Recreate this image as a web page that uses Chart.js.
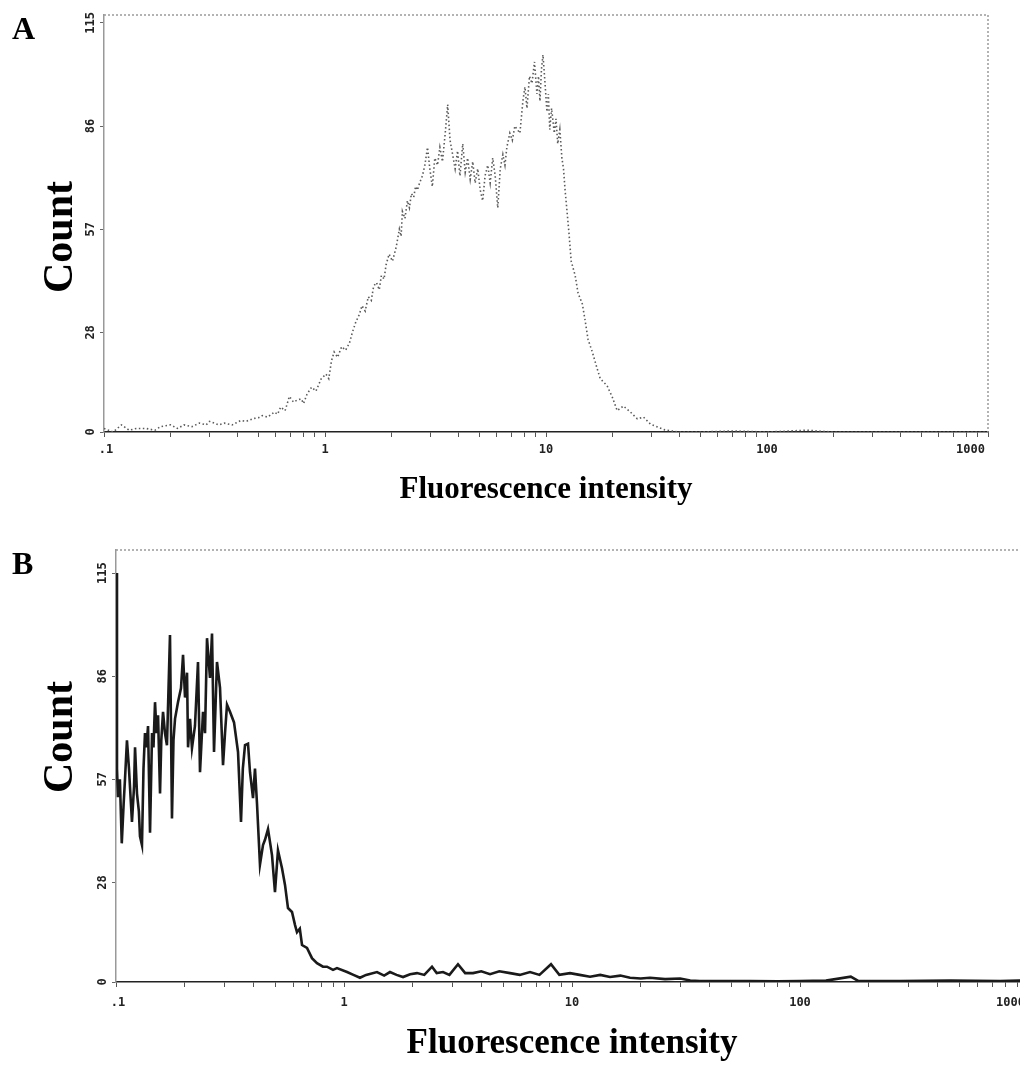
<!DOCTYPE html>
<html>
<head>
<meta charset="utf-8">
<script src="https://cdn.jsdelivr.net/npm/chart.js@4/dist/chart.umd.min.js"></script>
<style>
  html, body { margin: 0; padding: 0; background: #fff; }
  body { width: 1020px; height: 1067px; position: relative; overflow: hidden; font-family: "Liberation Serif", serif; }
  canvas { position: absolute; left: 0; }
  .letter { position: absolute; left: 12px; font-weight: bold; font-size: 32px; }
  .ytitle { position: absolute; width: 200px; height: 50px; line-height: 50px; text-align: center;
            font-weight: bold; font-size: 42px; transform: rotate(-90deg); }
</style>
</head>
<body>
<canvas id="chartA" style="top:0" width="1020" height="540"></canvas>
<canvas id="chartB" style="top:540px" width="1045" height="527"></canvas>
<div class="letter" style="top:10px">A</div>
<div class="letter" style="top:545px">B</div>
<div class="ytitle" style="left:-42px; top:212px">Count</div>
<div class="ytitle" style="left:-42px; top:712px">Count</div>

<script>
// axis labels
var xTickValues = [0.1, 1, 10, 100, 1000];
var xTickLabels = ['.1', '1', '10', '100', '1000'];
var yTickValues = [0, 28, 57, 86, 115];
var yTickLabels = ['0', '28', '57', '86', '115'];
var xTitle = 'Fluorescence intensity';

// panel A histogram (dotted)
var aIntensity = [
  0.1, 0.11, 0.12, 0.13, 0.14, 0.155, 0.17, 0.18, 0.2, 0.215,
  0.23, 0.25, 0.27, 0.29, 0.3, 0.33, 0.35, 0.38, 0.415, 0.44,
  0.475, 0.5, 0.52, 0.55, 0.59, 0.61, 0.63, 0.66, 0.69, 0.72,
  0.75, 0.78, 0.8, 0.83, 0.87, 0.91, 0.96, 1.01, 1.04, 1.07,
  1.1, 1.14, 1.19, 1.24, 1.29, 1.33, 1.38, 1.43, 1.47, 1.52,
  1.57, 1.62, 1.66, 1.71, 1.76, 1.8, 1.85, 1.89, 1.95, 2.02,
  2.1, 2.17, 2.21, 2.24, 2.3, 2.36, 2.41, 2.46, 2.52, 2.57,
  2.62, 2.68, 2.76, 2.83, 2.91, 2.98, 3.06, 3.14, 3.23, 3.31,
  3.4, 3.5, 3.59, 3.68, 3.78, 3.88, 3.98, 4.08, 4.2, 4.31,
  4.42, 4.54, 4.66, 4.78, 4.91, 5.04, 5.17, 5.3, 5.45, 5.59,
  5.74, 5.89, 6.05, 6.21, 6.38, 6.52, 6.65, 6.86, 7.04, 7.23,
  7.42, 7.62, 7.86, 8.03, 8.2, 8.42, 8.64, 8.87, 9.1, 9.25,
  9.39, 9.54, 9.69, 9.9, 10.1, 10.25, 10.4, 10.6, 10.9, 11.1,
  11.3, 11.55, 11.8, 12, 12.2, 12.45, 12.7, 13, 13.55, 13.97,
  14.6, 15, 15.5, 16.2, 17.06, 17.6, 18.9, 19.95, 21, 22.4,
  24.1, 25.9, 27.6, 29.7, 32, 34.5, 37, 40, 50, 70,
  100, 150, 200, 300, 500, 700, 1000
];
var aCount = [
  1, 0, 2, 0.5, 1, 1, 0.5, 1.5, 2, 1,
  2, 1.5, 2.5, 2, 3, 2, 2.5, 2, 3.2, 3,
  3.8, 4, 4.6, 4.2, 5.6, 5, 7, 6, 10, 8.4,
  9, 9.3, 8, 10.7, 12.6, 11.5, 14.9, 16.3, 15, 20,
  22.5, 21, 24, 23, 25, 28, 31, 33, 35.5, 34,
  38, 37, 41, 42, 40, 44, 43, 47, 50, 48,
  52, 57, 55, 62, 60, 65, 63, 67, 66, 69,
  68, 70, 72, 75, 80, 74, 69, 77, 75, 80,
  76, 84, 92, 82, 78, 74, 79, 72, 81, 73,
  77, 71, 76, 70, 74, 68, 65, 72, 75, 70,
  77, 72, 63, 74, 78, 75, 80, 84, 82, 86,
  85, 84, 93, 97, 91, 100, 98, 104, 95, 100,
  93, 102, 106, 98, 90, 95, 85, 91, 84, 88,
  81, 85, 77, 74, 68, 62, 56, 48, 44, 39,
  36, 31.7, 26, 22.5, 17.7, 15, 13, 9.8, 6, 7.3,
  5.6, 3.7, 4.2, 2.2, 1.4, 0.6, 0.3, 0, 0, 0.3,
  0, 0.5, 0, 0, 0, 0, 0
];

// panel B histogram (solid)
var bIntensity = [
  0.1, 0.101, 0.102, 0.104, 0.106, 0.108, 0.1095, 0.1117, 0.114, 0.1175,
  0.12, 0.1212, 0.1236, 0.126, 0.1274, 0.13, 0.132, 0.134, 0.136, 0.1382,
  0.141, 0.1439, 0.146, 0.1483, 0.1506, 0.1529, 0.156, 0.158, 0.1608, 0.164,
  0.1673, 0.1725, 0.176, 0.1787, 0.1815, 0.187, 0.1928, 0.1968, 0.2008, 0.2049,
  0.207, 0.2112, 0.2154, 0.222, 0.2289, 0.2336, 0.2408, 0.2457, 0.2507, 0.2584,
  0.2637, 0.2691, 0.2773, 0.2859, 0.2947, 0.3007, 0.3068, 0.3162, 0.3293, 0.3429,
  0.3534, 0.36, 0.368, 0.3793, 0.387, 0.399, 0.407, 0.4155, 0.428, 0.4413,
  0.4503, 0.4642, 0.4833, 0.498, 0.5134, 0.5347, 0.5511, 0.568, 0.5914, 0.61,
  0.622, 0.64, 0.6544, 0.6882, 0.7237, 0.7612, 0.8086, 0.8422, 0.8949, 0.9317,
  1.031, 1.1, 1.175, 1.25, 1.395, 1.5, 1.591, 1.7, 1.815, 1.95,
  2.09, 2.25, 2.432, 2.55, 2.718, 2.9, 3.162, 3.4, 3.68, 4,
  4.37, 4.8, 5.35, 5.9, 6.545, 7.2, 8.09, 8.8, 9.8, 10.8,
  12, 13.3, 14.68, 16.3, 17.97, 20, 21.98, 25.6, 29.8, 33,
  36.4, 45, 60.4, 80, 100, 130, 167, 180, 274, 455,
  754, 1000
];
var bCount = [
  115, 60, 52, 57, 39, 50, 57, 68, 60, 45,
  55, 66, 53, 48, 41, 38.5, 60, 70, 66, 72,
  42, 70, 66, 78.7, 70, 75, 53, 68, 76, 70,
  66.6, 97.6, 46, 68, 74, 78.7, 82.7, 92, 80, 87,
  66, 74, 65.8, 72, 90, 59, 76, 70, 96.7, 85.5,
  98, 64.7, 90, 82.7, 61, 70, 78, 76, 73, 64.7,
  45, 60, 66.6, 67, 59, 51.7, 60, 50, 33, 38.5,
  40, 43, 35.7, 25.3, 37, 32, 27.3, 20.8, 19.7, 16,
  14, 15, 10.4, 9.6, 6.7, 5.3, 4.3, 4.3, 3.4, 3.9,
  2.8, 2, 1.2, 2, 2.8, 1.8, 2.8, 2, 1.4, 2.2,
  2.5, 2, 4.3, 2.5, 2.8, 2, 5, 2.5, 2.5, 3,
  2.2, 3, 2.5, 2, 2.8, 2, 5, 2, 2.5, 2,
  1.5, 2, 1.4, 1.8, 1.2, 1, 1.2, 0.8, 1, 0.4,
  0.3, 0.3, 0.3, 0.2, 0.3, 0.4, 1.5, 0.3, 0.3, 0.4,
  0.3, 0.5
];

// tick labels, top/right frame
var frameText = {
  id: 'frameText',
  afterDraw: function(chart, args, o) {
    var ctx = chart.ctx, a = chart.chartArea;
    var x = chart.scales.x, y = chart.scales.y;
    ctx.save();
    ctx.strokeStyle = '#9a9a9a';
    ctx.lineWidth = 1.5;
    ctx.setLineDash([2, 2]);
    ctx.beginPath();
    ctx.moveTo(a.left, a.top);
    ctx.lineTo(a.right, a.top);
    ctx.lineTo(a.right, a.bottom);
    ctx.stroke();
    ctx.setLineDash([]);

    ctx.fillStyle = '#222';
    ctx.font = 'bold 12px "DejaVu Sans Mono"';
    ctx.textBaseline = 'middle';
    xTickValues.forEach(function(v, i) {
      var px = x.getPixelForValue(v);
      if (i === xTickValues.length - 1) {
        ctx.textAlign = 'right';
        px -= 3;
      } else {
        ctx.textAlign = 'center';
        if (i === 0) px += 2;
      }
      ctx.fillText(xTickLabels[i], px, a.bottom + o.xGap);
    });
    yTickValues.forEach(function(v, i) {
      ctx.save();
      ctx.translate(a.left - o.yGap, y.getPixelForValue(v));
      ctx.rotate(-Math.PI / 2);
      ctx.textAlign = 'center';
      ctx.fillText(yTickLabels[i], 0, 0);
      ctx.restore();
    });
    ctx.restore();
  }
};

function makeChart(id, xs, ys, cfg) {
  var points = xs.map(function(v, i) { return {x: v, y: ys[i]}; });
  return new Chart(document.getElementById(id), {
    type: 'line',
    data: {
      datasets: [{
        data: points,
        borderColor: cfg.color,
        borderWidth: cfg.width,
        borderDash: cfg.dash,
        pointRadius: 0,
        tension: 0,
        fill: false
      }]
    },
    options: {
      responsive: false,
      animation: false,
      devicePixelRatio: 1,
      layout: { padding: { left: 0, top: cfg.top, right: cfg.right, bottom: 0 } },
      plugins: {
        legend: { display: false },
        tooltip: { enabled: false },
        frameText: { xGap: cfg.xGap, yGap: 13 }
      },
      scales: {
        x: {
          type: 'logarithmic',
          min: 0.1,
          max: 1000,
          afterBuildTicks: function(s) {
            var t = [];
            for (var d = 0; d < 4; d++) {
              for (var k = 1; k < 10; k++) t.push({value: k * xTickValues[d]});
            }
            t.push({value: 1000});
            s.ticks = t;
          },
          afterFit: function(s) { s.height = cfg.xAxisH; },
          ticks: { display: false },
          grid: { drawOnChartArea: false, drawTicks: true, tickLength: 5, color: '#555', lineWidth: 1 },
          border: { display: true, color: '#222', width: 1.5, dash: [2, 1] },
          title: {
            display: true,
            text: xTitle,
            color: '#000',
            font: { family: 'Liberation Serif', size: cfg.titleSize, weight: 'bold' },
            padding: { top: 0, bottom: cfg.titlePad }
          }
        },
        y: {
          type: 'linear',
          min: 0,
          max: cfg.yMax,
          afterBuildTicks: function(s) {
            s.ticks = yTickValues.map(function(v) { return {value: v}; });
          },
          afterFit: function(s) { s.width = cfg.left; },
          ticks: { display: false },
          grid: { drawOnChartArea: false, drawTicks: true, tickLength: 4, color: '#666' },
          border: { display: true, color: '#999', width: 1.5, dash: [2, 2] }
        }
      }
    },
    plugins: [frameText]
  });
}

makeChart('chartA', aIntensity, aCount, {
  color: '#5a5a5a', width: 1.6, dash: [1.5, 2.5],
  top: 15, right: 32, left: 104, xAxisH: 108, yMax: 117.2,
  xGap: 18, titleSize: 31, titlePad: 31
});

makeChart('chartB', bIntensity, bCount, {
  color: '#1a1a1a', width: 2.6, dash: [],
  top: 10, right: 17, left: 116, xAxisH: 85, yMax: 121.5,
  xGap: 21, titleSize: 35, titlePad: 2
});
</script>
</body>
</html>
